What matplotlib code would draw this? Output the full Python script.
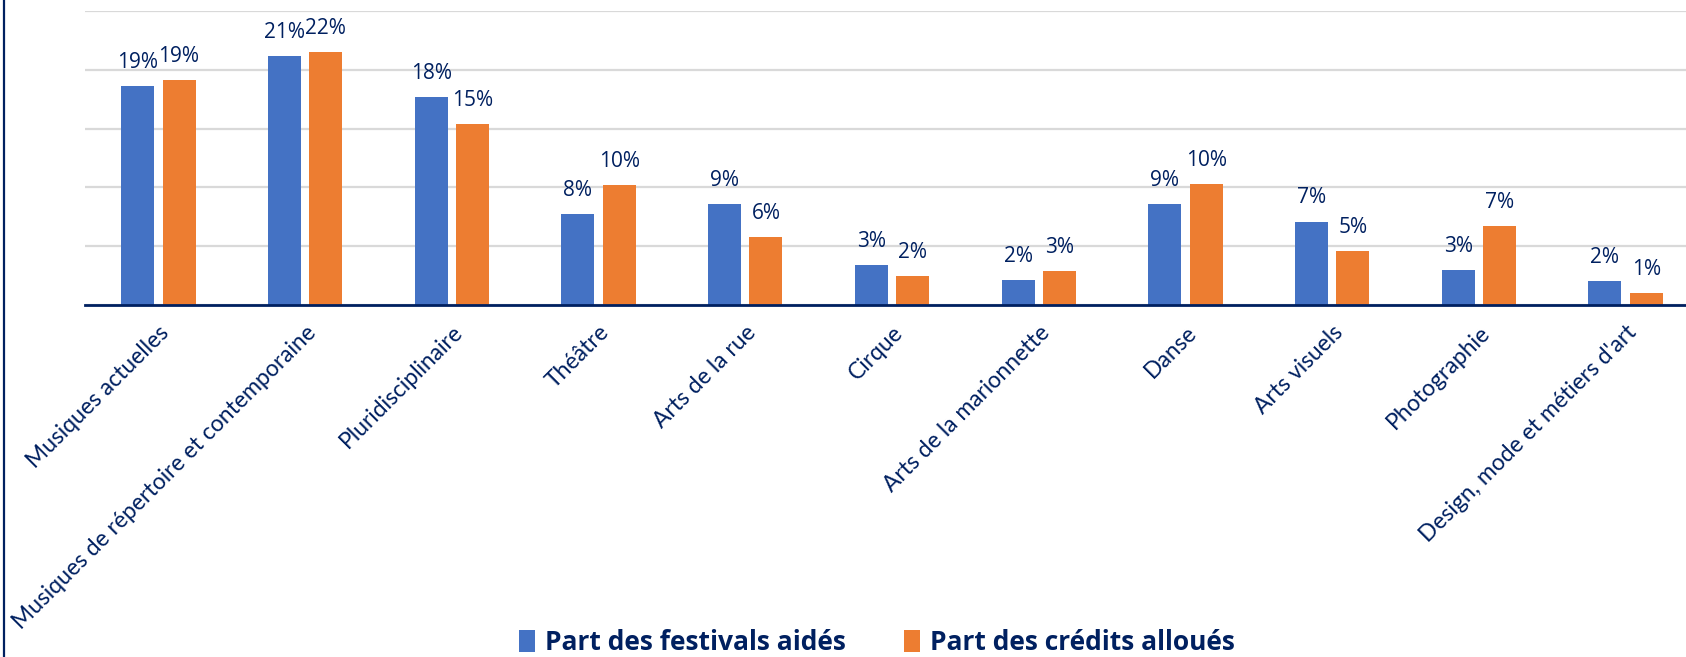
import matplotlib.pyplot as plt
import matplotlib.lines as mlines
import numpy as np

plt.rcParams['font.family'] = ['Open Sans', 'DejaVu Sans']

categories = ['Musiques actuelles', 'Musiques de répertoire et contemporaine',
              'Pluridisciplinaire', 'Théâtre', 'Arts de la rue', 'Cirque',
              'Arts de la marionnette', 'Danse', 'Arts visuels', 'Photographie',
              "Design, mode et métiers d'art"]
festivals = [18.6, 21.2, 17.7, 7.7, 8.6, 3.4, 2.1, 8.6, 7.1, 3.0, 2.0]
credits = [19.1, 21.5, 15.4, 10.2, 5.8, 2.5, 2.9, 10.3, 4.6, 6.7, 1.0]
series_names = ['Part des festivals aidés', 'Part des crédits alloués']

BLUE = '#4472C4'
ORANGE = '#ED7D31'
NAVY = '#002060'

fig = plt.figure(figsize=(16.86, 6.57), dpi=100)
ax = fig.add_axes([85 / 1686, 1 - 305 / 657, 1614 / 1686, 294 / 657])

x = np.arange(len(categories))
w = 0.225
off = 0.141
b1 = ax.bar(x - off, festivals, w, color=BLUE, label=series_names[0], zorder=3)
b2 = ax.bar(x + off, credits, w, color=ORANGE, label=series_names[1], zorder=3)

for bars, vals in ((b1, festivals), (b2, credits)):
    for rect, v in zip(bars, vals):
        ax.annotate(f'{round(v)}%', (rect.get_x() + rect.get_width() / 2, v),
                    xytext=(0, 13), textcoords='offset points',
                    ha='center', va='baseline', fontsize=15, color=NAVY)

ax.set_xlim(-0.5, len(categories) - 0.5)
ax.set_ylim(0, 25)
ax.set_yticks(np.arange(0, 26, 5))
ax.set_yticklabels([])
ax.yaxis.grid(True, color='#d9d9d9', linewidth=1.6, zorder=0)
ax.tick_params(axis='both', length=0)
ax.set_xticks(x)
ax.set_xticklabels(categories, rotation=45, ha='right', va='top',
                   rotation_mode='anchor', fontsize=16.5, color=NAVY,
                   family=['Lato', 'DejaVu Sans'])
ax.tick_params(axis='x', pad=12)
for s in ['top', 'right', 'left']:
    ax.spines[s].set_visible(False)
ax.spines['bottom'].set_color(NAVY)
ax.spines['bottom'].set_linewidth(2)
ax.spines['bottom'].set_zorder(4)

ax.legend(loc='center', bbox_to_anchor=(877 / 1686, 1 - 643 / 657),
          bbox_transform=fig.transFigure, ncol=2, frameon=False,
          prop={'weight': 'bold', 'size': 19}, labelcolor=NAVY,
          handlelength=0.6, handleheight=0.9, handletextpad=0.4,
          columnspacing=2.2)

fig.add_artist(mlines.Line2D([4 / 1686, 4 / 1686], [0, 1], color=NAVY,
                             linewidth=1.6, transform=fig.transFigure))

fig.savefig('out.png', dpi=100)
